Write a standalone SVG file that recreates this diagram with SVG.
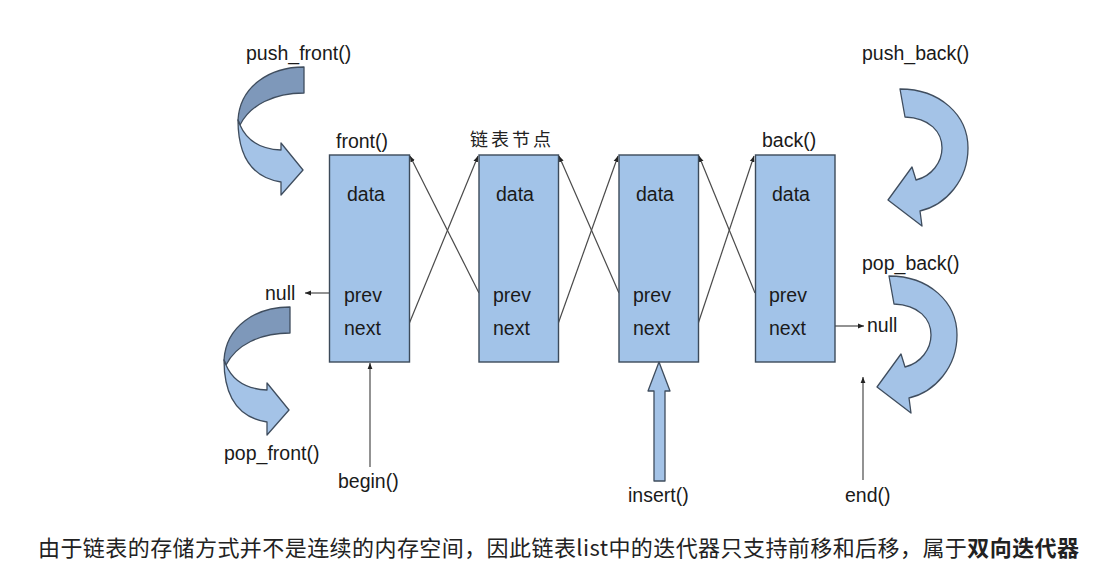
<svg xmlns="http://www.w3.org/2000/svg" width="1108" height="580" viewBox="0 0 1108 580">
<style>
.box{fill:#a2c3e8;stroke:#3c4a5a;stroke-width:1.4}
.t{font-family:"Liberation Sans",Arial,sans-serif;font-size:19.5px;fill:#1a1a1a}
.cj{font-family:"Noto Sans CJK SC",sans-serif;fill:#222}
.ln{stroke:#4a4a4a;stroke-width:1.2;fill:none;marker-end:url(#ah)}
.lt{fill:#a4c3e7;stroke:#3f4d5e;stroke-width:1.3;stroke-linejoin:round}
.dk{fill:#7e98ba;stroke:#3f4d5e;stroke-width:1.3;stroke-linejoin:round}
</style>
<defs>
<marker id="ah" viewBox="0 0 10 10" refX="10" refY="5" markerWidth="6" markerHeight="6" orient="auto" markerUnits="userSpaceOnUse">
<path d="M0,1 L10,5 L0,9 Z" fill="#222"/>
</marker>
<g id="curlL">
<path class="dk" d="M304,67 C270,67 240,86 238,120 L240,125 C250,105 274,93 304,93 Z"/>
<path class="lt" d="M240,125 C246,139 259,149 281,150 L281,143 L303,170 L281,195 L281,182 C255,178 238,160 238,120 Z"/>
</g>
<path id="curlR" class="lt" d="M900,89 C940,89 968,115 968,148 C968,180 946,205 920,211 L922,226 L888,200 L912,167 L916,180 C932,176 942,162 942,148 C942,132 930,118 905,117 Z"/>
</defs>
<rect width="1108" height="580" fill="#ffffff"/>

<g id="connectors">
<line class="ln" x1="409" y1="324" x2="478" y2="156"/>
<line class="ln" x1="479" y1="293" x2="410" y2="156"/>
<line class="ln" x1="558" y1="324" x2="618" y2="156"/>
<line class="ln" x1="619" y1="293" x2="559" y2="156"/>
<line class="ln" x1="698" y1="324" x2="754" y2="156"/>
<line class="ln" x1="755" y1="293" x2="699" y2="156"/>
<line class="ln" x1="329" y1="293" x2="305" y2="293"/>
<line class="ln" x1="835" y1="326" x2="864" y2="326"/>
<line class="ln" x1="370" y1="467" x2="370" y2="363"/>
<line class="ln" x1="863" y1="480" x2="863" y2="377"/>
</g>

<g id="node1">
<rect class="box" x="329.5" y="155" width="80" height="207"/>
<text class="t" x="336" y="148">front()</text>
<text class="t" x="347" y="201">data</text>
<text class="t" x="344" y="302">prev</text>
<text class="t" x="344" y="335">next</text>
</g>
<g id="node2">
<rect class="box" x="479" y="155" width="79.5" height="207"/>
<text class="cj" x="470" y="146" font-size="18" letter-spacing="3">链表节点</text>
<text class="t" x="496" y="201">data</text>
<text class="t" x="493" y="302">prev</text>
<text class="t" x="493" y="335">next</text>
</g>
<g id="node3">
<rect class="box" x="619" y="155" width="79.5" height="207"/>
<text class="t" x="636" y="201">data</text>
<text class="t" x="633" y="302">prev</text>
<text class="t" x="633" y="335">next</text>
</g>
<g id="node4">
<rect class="box" x="755.5" y="155" width="79.5" height="207"/>
<text class="t" x="762" y="147">back()</text>
<text class="t" x="772" y="201">data</text>
<text class="t" x="769" y="302">prev</text>
<text class="t" x="769" y="335">next</text>
</g>

<g id="null-left"><text class="t" x="265" y="300">null</text></g>
<g id="null-right"><text class="t" x="867" y="332">null</text></g>
<g id="begin"><text class="t" x="338" y="488">begin()</text></g>
<g id="end"><text class="t" x="845" y="502">end()</text></g>

<g id="insert">
<path class="lt" d="M654,481 L665,481 L665,391 L670,391 L659,362 L648,391 L654,391 Z"/>
<text class="t" x="628" y="502">insert()</text>
</g>

<g id="push_front">
<use href="#curlL"/>
<text class="t" x="246" y="60">push_front()</text>
</g>
<g id="pop_front">
<use href="#curlL" transform="translate(-14,240)"/>
<text class="t" x="224" y="460">pop_front()</text>
</g>
<g id="push_back">
<use href="#curlR"/>
<text class="t" x="862" y="60">push_back()</text>
</g>
<g id="pop_back">
<use href="#curlR" transform="translate(-11,187)"/>
<text class="t" x="862" y="270">pop_back()</text>
</g>

<g id="caption">
<text class="cj" x="38" y="556" font-size="22" textLength="1041" lengthAdjust="spacing">由于链表的存储方式并不是连续的内存空间，因此链表list中的迭代器只支持前移和后移，属于<tspan font-weight="bold">双向迭代器</tspan></text>
</g>
</svg>
